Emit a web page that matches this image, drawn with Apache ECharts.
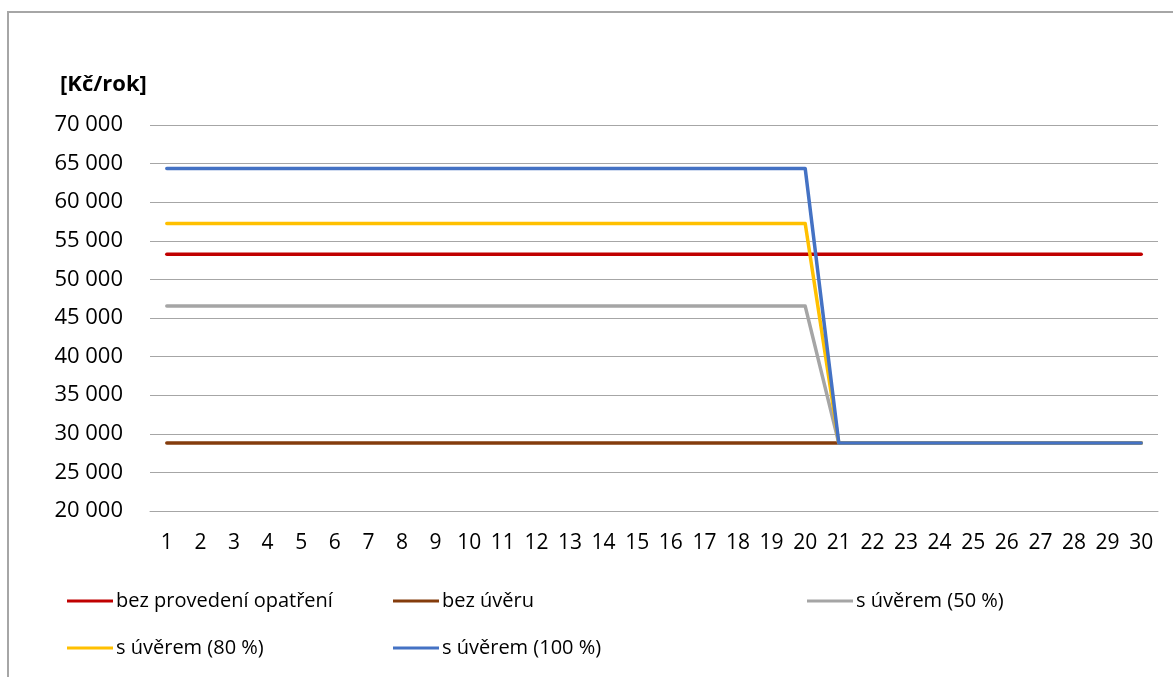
<!DOCTYPE html>
<html>
<head>
<meta charset="utf-8">
<script src="https://cdn.jsdelivr.net/npm/echarts@6/dist/echarts.min.js"></script>
<style>
  html, body { margin: 0; padding: 0; background: #ffffff; }
  #chart { width: 1173px; height: 677px; }
</style>
</head>
<body>
<div id="chart"></div>
<script>
// Roky hodnoceného období
const years = ['1','2','3','4','5','6','7','8','9','10','11','12','13','14','15','16','17','18','19','20','21','22','23','24','25','26','27','28','29','30'];

// Roční náklady [Kč/rok] pro jednotlivé varianty
const bezProvedeni = [53260,53260,53260,53260,53260,53260,53260,53260,53260,53260,53260,53260,53260,53260,53260,53260,53260,53260,53260,53260,53260,53260,53260,53260,53260,53260,53260,53260,53260,53260];
const bezUveru = [28800,28800,28800,28800,28800,28800,28800,28800,28800,28800,28800,28800,28800,28800,28800,28800,28800,28800,28800,28800,28800,28800,28800,28800,28800,28800,28800,28800,28800,28800];
const sUverem50 = [46540,46540,46540,46540,46540,46540,46540,46540,46540,46540,46540,46540,46540,46540,46540,46540,46540,46540,46540,46540,28800,28800,28800,28800,28800,28800,28800,28800,28800,28800];
const sUverem80 = [57230,57230,57230,57230,57230,57230,57230,57230,57230,57230,57230,57230,57230,57230,57230,57230,57230,57230,57230,57230,28800,28800,28800,28800,28800,28800,28800,28800,28800,28800];
const sUverem100 = [64370,64370,64370,64370,64370,64370,64370,64370,64370,64370,64370,64370,64370,64370,64370,64370,64370,64370,64370,64370,28800,28800,28800,28800,28800,28800,28800,28800,28800,28800];

const seriesNames = ['bez provedení opatření', 'bez úvěru', 's úvěrem (50 %)', 's úvěrem (80 %)', 's úvěrem (100 %)'];
const seriesData = [bezProvedeni, bezUveru, sUverem50, sUverem80, sUverem100];
const seriesColors = ['#C00000', '#843C0C', '#A5A5A5', '#FFC000', '#4472C4'];

const FONT = '"Open Sans", "Noto Sans", sans-serif';

function thousands(v) {
  return String(v).replace(/\B(?=(\d{3})+(?!\d))/g, ' ');
}

const legendBase = {
  orient: 'vertical',
  icon: 'rect',
  itemWidth: 46,
  itemHeight: 3,
  itemGap: 23,
  selectedMode: false,
  padding: 0,
  textStyle: { fontFamily: FONT, fontSize: 20, color: '#000', lineHeight: 24, padding: [0, 0, 0, -2] }
};

const chart = echarts.init(document.getElementById('chart'), null, { renderer: 'canvas' });
chart.setOption({
  animation: false,
  backgroundColor: '#ffffff',
  textStyle: { fontFamily: FONT },
  title: {
    text: '[Kč/rok]',
    left: 60,
    top: 74,
    padding: 0,
    textStyle: { fontFamily: FONT, fontSize: 22, fontWeight: 'bold', color: '#000' }
  },
  graphic: [{
    type: 'rect',
    shape: { x: 8, y: 12, width: 1400, height: 900 },
    style: { fill: 'none', stroke: '#A6A6A6', lineWidth: 2 },
    silent: true,
    z: 0
  }],
  legend: [
    Object.assign({}, legendBase, { left: 67, top: 589, data: [seriesNames[0], seriesNames[3]] }),
    Object.assign({}, legendBase, { left: 393, top: 589, data: [seriesNames[1], seriesNames[4]] }),
    Object.assign({}, legendBase, { left: 807, top: 589, data: [seriesNames[2]] })
  ],
  grid: { left: 150, right: 15, top: 125, bottom: 166, containLabel: false },
  xAxis: {
    type: 'category',
    data: years,
    boundaryGap: true,
    axisLine: { show: true, lineStyle: { color: '#A6A6A6', width: 1 } },
    axisTick: { show: false },
    axisLabel: { color: '#000', fontFamily: FONT, fontSize: 21, margin: 22, interval: 0 },
    splitLine: { show: false }
  },
  yAxis: {
    type: 'value',
    min: 20000,
    max: 70000,
    interval: 5000,
    axisLine: { show: false },
    axisTick: { show: false },
    axisLabel: { color: '#000', fontFamily: FONT, fontSize: 22, margin: 27, formatter: thousands },
    splitLine: { show: true, lineStyle: { color: '#A6A6A6', width: 1 } }
  },
  series: seriesNames.map((name, i) => ({
    name: name,
    type: 'line',
    data: seriesData[i],
    symbol: 'none',
    smooth: false,
    color: seriesColors[i],
    lineStyle: { color: seriesColors[i], width: 3.5, cap: 'round', join: 'round' },
    z: 2 + i
  }))
});
</script>
</body>
</html>
